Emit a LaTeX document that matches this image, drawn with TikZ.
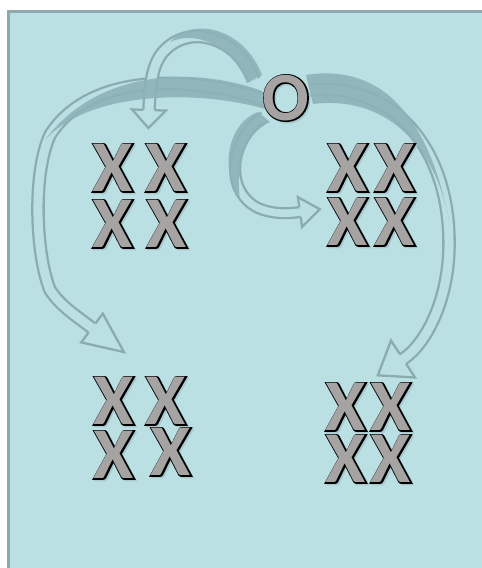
\documentclass[tikz,border=0pt]{standalone}
\usepackage{fontspec}
\usetikzlibrary{calc}
\newfontfamily\fillfont{Carlito Bold}
\newfontfamily\outfont[FakeBold=3.4]{Carlito Bold}
\definecolor{bgc}{RGB}{186,224,228}
\definecolor{framec}{RGB}{143,168,172}
\definecolor{outc}{RGB}{138,172,177}
\definecolor{bandc}{RGB}{141,178,183}
\definecolor{lettergray}{RGB}{166,163,163}
\definecolor{shadowc}{RGB}{168,200,205}
\newcommand\olt[1]{\rlap{\smash{\raisebox{-1.5pt}{\kern1.5pt\color{shadowc}\outfont #1}}}\rlap{\color{black}\outfont #1}{\color{lettergray}\fillfont #1}}
\newcommand\arrowhead[5]{%
  \filldraw[headstyle] ($(#1)+(#2+90:#3)$) -- ($(#1)+(#2+90:#4)$) -- ($(#1)+(#2:#5)$) -- ($(#1)+(#2-90:#4)$) -- ($(#1)+(#2-90:#3)$);}
\begin{document}
\begin{tikzpicture}[x=1pt,y=-1pt,
  framebox/.style={draw=framec,line width=3pt,fill=bgc},
  shaft/.style={draw=outc,line width=2.3pt,double=bgc,double distance=9pt},
  thinshaft/.style={draw=outc,line width=2.3pt,double=bgc,double distance=7.5pt},
  headstyle/.style={draw=outc,line width=2.3pt,fill=bgc,line join=miter},
  band/.style={fill=bandc,fill opacity=0.9},
  letter/.style={inner sep=0pt,font=\fontsize{73}{73}\selectfont},
  oletter/.style={inner sep=0pt,font=\fontsize{69}{69}\selectfont}]
\useasboundingbox (0,0) rectangle (482,568);
\clip (0,0) rectangle (482,568);
\fill[white] (0,0) rectangle (482,568);
\draw[framebox] (8.5,11.5) rectangle (500,590);

% named end points
\coordinate (aS) at (254,80);
\coordinate (aE) at (149,110);
\coordinate (bS) at (265,100);
\coordinate (bE) at (92,328);
\coordinate (cS) at (264,117);
\coordinate (cE) at (300,212);
\coordinate (dS) at (310,90);
\coordinate (dE) at (403,359);

% shafts
\draw[shaft] (bS) .. controls (190,75) and (90,72) .. (50,135)
  .. controls (32,175) and (36,255) .. (50,290)
  .. controls (60,305) and (72,313) .. (bE);
\draw[shaft] (dS) .. controls (395,82) and (448,150) .. (449,240)
  .. controls (450,300) and (425,345) .. (dE);
\draw[thinshaft] (cS) .. controls (232,135) and (222,190) .. (258,208)
  .. controls (272,214) and (287,214) .. (cE);
\draw[shaft] (aS) .. controls (238,38) and (190,22) .. (163,52)
  .. controls (152,65) and (150,85) .. (aE);

% solid tail bands
\path[band] (262,91) .. controls (200,68) and (100,66) .. (45,140)
  .. controls (90,90) and (200,90) .. (265,109) -- cycle;
\path[band] (258,112) .. controls (230,122) and (218,165) .. (240,200)
  .. controls (236,170) and (242,135) .. (270,122) -- cycle;
\path[band] (306,75) .. controls (370,65) and (425,100) .. (449,220)
  .. controls (435,145) and (385,95) .. (313,104) -- cycle;
\path[band] (262,75) .. controls (245,30) and (195,15) .. (170,42)
  .. controls (195,30) and (232,45) .. (247,83) -- cycle;

% heads
\arrowhead{aE}{92}{5.65}{17}{18}
\arrowhead{bE}{37}{5.65}{18}{40}
\arrowhead{cE}{-8}{4.9}{15}{20}
\arrowhead{dE}{147}{5.65}{22}{30}

% letters
\node[oletter] (o) at (286,98) {\olt{O}};
\node[letter] (tl1) at (113,168) {\olt{X}};
\node[letter] (tl2) at (166,168) {\olt{X}};
\node[letter] (tl3) at (113,224) {\olt{X}};
\node[letter] (tl4) at (167,224) {\olt{X}};
\node[letter] (tr1) at (348,168) {\olt{X}};
\node[letter] (tr2) at (395,168) {\olt{X}};
\node[letter] (tr3) at (348,222) {\olt{X}};
\node[letter] (tr4) at (395,222) {\olt{X}};
\node[letter] (bl1) at (114,401) {\olt{X}};
\node[letter] (bl2) at (166,401) {\olt{X}};
\node[letter] (bl3) at (114,455) {\olt{X}};
\node[letter] (bl4) at (171,452) {\olt{X}};
\node[letter] (br1) at (346,407) {\olt{X}};
\node[letter] (br2) at (391,407) {\olt{X}};
\node[letter] (br3) at (346,459) {\olt{X}};
\node[letter] (br4) at (391,459) {\olt{X}};
\end{tikzpicture}
\end{document}
